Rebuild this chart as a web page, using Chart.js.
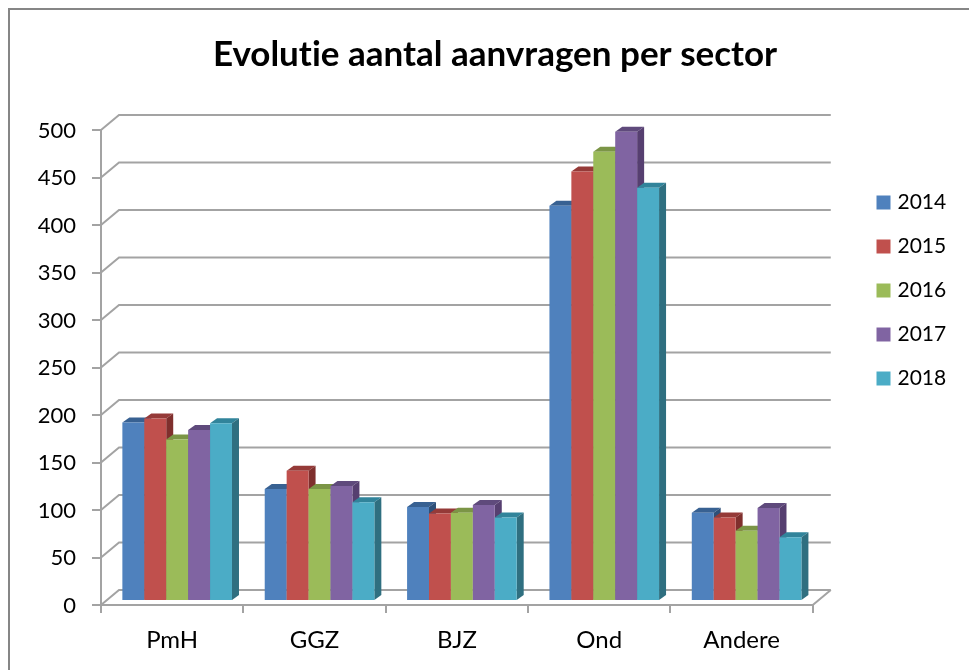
<!DOCTYPE html>
<html><head><meta charset="utf-8">
<style>html,body{margin:0;padding:0;background:#fff;overflow:hidden}canvas{display:block;filter:blur(0.4px)}</style>
<script src="https://cdn.jsdelivr.net/npm/chart.js@4"></script></head>
<body><canvas id="c" width="969" height="670"></canvas>
<script>
const titleText = "Evolutie aantal aanvragen per sector";
const categories = ["PmH","GGZ","BJZ","Ond","Andere"];
const years = ["2014","2015","2016","2017","2018"];
const v2014 = [188,118,99,416,93];
const v2015 = [192,137,92,452,88];
const v2016 = [170,118,93,473,74];
const v2017 = [180,121,101,494,98];
const v2018 = [187,104,88,435,67];
const seriesValues = [v2014,v2015,v2016,v2017,v2018];
const fronts = ["#4F81BD","#C0504D","#9BBB59","#8064A2","#4BACC6"];
const tops   = ["#386192","#953a38","#7b9546","#5f4a7c","#31849b"];
const sides  = ["#2e5079","#7f2f2d","#67803a","#563f70","#2f6f80"];
const GRID = "#a3a3a3";
const BACK = {dx:18, dy:15};
const BAR = {shiftX:5, shiftY:-4, dx:7, dy:5};

const wall = {
  id:"wall",
  beforeDraw(chart){
    const c = chart.ctx;
    c.textRendering = "optimizeSpeed";
    c.save();
    c.fillStyle="#fff"; c.fillRect(0,0,chart.width,chart.height);
    c.strokeStyle="#868686"; c.lineWidth=2;
    c.beginPath(); c.moveTo(9,670); c.lineTo(9,9); c.lineTo(969,9); c.stroke();
    c.restore();
  },
  afterLayout(chart){
    const l=chart.legend;
    l.left=857; l.right=969; l.top=169; l.bottom=670;
    chart.titleBlock.left += 78;
  },
  beforeDatasetsDraw(chart){
    const c=chart.ctx, a=chart.chartArea, y=chart.scales.y;
    c.save();
    c.strokeStyle=GRID; c.lineWidth=2;
    y.ticks.forEach(t=>{
      const p=y.getPixelForValue(t.value);
      c.beginPath(); c.moveTo(a.left,p); c.lineTo(a.left+BACK.dx,p-BACK.dy); c.lineTo(a.right+BACK.dx,p-BACK.dy); c.stroke();
    });
    const p0=y.getPixelForValue(0);
    c.beginPath(); c.moveTo(a.right,p0); c.lineTo(a.right+BACK.dx,p0-BACK.dy); c.stroke();
    c.translate(BAR.shiftX,BAR.shiftY);
    years.forEach((_,i)=>{
      const meta=chart.getDatasetMeta(i);
      meta.data.forEach(b=>{
        const L=b.x-b.width/2, R=b.x+b.width/2, T=b.y, B=b.base;
        c.fillStyle=tops[i];
        c.beginPath(); c.moveTo(L,T); c.lineTo(L+BAR.dx,T-BAR.dy); c.lineTo(R+BAR.dx,T-BAR.dy); c.lineTo(R,T); c.closePath(); c.fill();
        c.fillStyle=sides[i];
        c.beginPath(); c.moveTo(R,T); c.lineTo(R+BAR.dx,T-BAR.dy); c.lineTo(R+BAR.dx,B-BAR.dy); c.lineTo(R,B); c.closePath(); c.fill();
      });
      meta.controller.draw();
    });
    c.restore();
    return false;
  }
};

new Chart(document.getElementById("c"),{
  type:"bar",
  data:{labels:categories,datasets:years.map((y,i)=>({
    label:y,data:seriesValues[i],backgroundColor:fronts[i],borderWidth:0,
    categoryPercentage:0.77,barPercentage:1
  }))},
  plugins:[wall],
  options:{
    responsive:false,animation:false,
    layout:{padding:{left:0,right:57,top:0,bottom:0}},
    plugins:{
      tooltip:{enabled:false},
      title:{display:true,text:titleText,color:"#000",font:{family:"Lato",size:35,weight:"bold"},padding:{top:34,bottom:54}},
      legend:{position:"right",align:"start",labels:{color:"#000",font:{family:"Lato",size:21},boxWidth:7,boxHeight:7,padding:23,
        generateLabels(chart){
          return Chart.defaults.plugins.legend.labels.generateLabels(chart).map(it=>({...it,lineWidth:7,strokeStyle:it.fillStyle}));
        }}}
    },
    scales:{
      x:{offset:true,
        grid:{offset:true,drawOnChartArea:false,color:GRID,lineWidth:2,tickLength:8},
        border:{color:GRID,width:2},
        ticks:{color:"#000",font:{family:"Lato",size:24},padding:13},
        afterFit(s){s.height=65;}},
      y:{min:0,max:500,
        grid:{drawOnChartArea:false,color:GRID,lineWidth:2,tickLength:9},
        border:{color:GRID,width:2},
        ticks:{stepSize:50,color:"#000",font:{family:"Lato",size:22},padding:16,labelOffset:0.5},
        afterFit(s){s.width=101;}}
    }
  }
});
</script></body></html>
